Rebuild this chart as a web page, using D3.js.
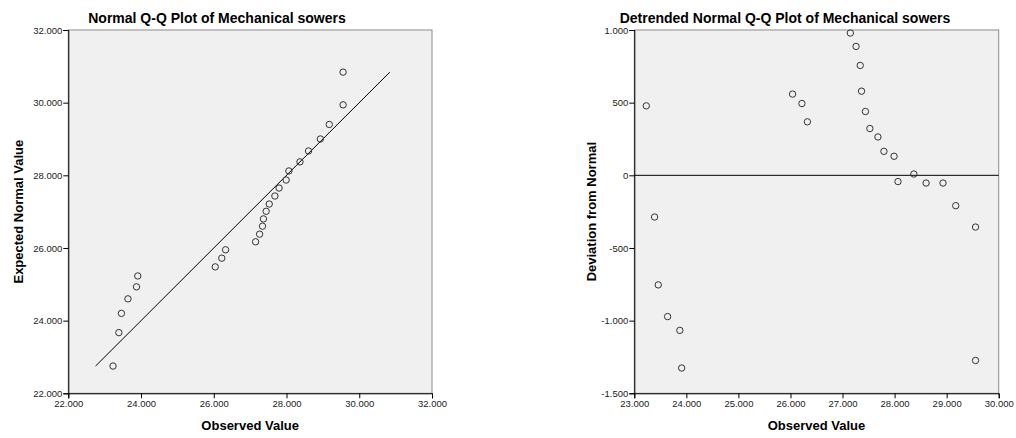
<!DOCTYPE html>
<html>
<head>
<meta charset="utf-8">
<script src="https://cdn.jsdelivr.net/npm/d3@7"></script>
<style>
  body { margin: 0; background: #fff; }
  svg text { font-family: Arial, "Liberation Sans", sans-serif; }
</style>
</head>
<body>
<svg id="chart" width="1016" height="438"></svg>
<script>
// observed values (sorted), expected normal values, deviation from normal
var observed = [23230, 23390, 23460, 23640, 23875, 23910, 26040, 26220, 26325, 27150, 27260, 27340, 27365,
                27440, 27525, 27680, 27795, 27990, 28065, 28370, 28605, 28930, 29175, 29555, 29555];
var expected = [22750, 23670, 24200, 24600, 24930, 25230, 25480, 25720, 25950, 26170, 26380, 26600, 26800,
                27010, 27210, 27430, 27650, 27870, 28120, 28370, 28670, 29000, 29400, 29940, 30840];
var deviation = [478, -287, -754, -972, -1067, -1326, 559, 494, 368, 979, 887, 756, 579,
                 439, 322, 264, 165, 131, -43, 9, -53, -53, -209, -356, -1274];

var qqTicks = [22000, 24000, 26000, 28000, 30000, 32000];
var detX = [23000, 24000, 25000, 26000, 27000, 28000, 29000, 30000];
var detY = [-1500, -1000, -500, 0, 500, 1000];

// european style: 23.000
var loc = d3.formatLocale({decimal: ",", thousands: ".", grouping: [3], currency: ["", ""], minus: "-"});
var fmt = loc.format(",d");

var svg = d3.select("#chart");

function frame(g, x, y) {
  g.append("rect")
    .attr("x", x.range()[0]).attr("y", y.range()[1])
    .attr("width", x.range()[1] - x.range()[0])
    .attr("height", y.range()[0] - y.range()[1])
    .attr("fill", "#f0f0f0").attr("stroke", "#8c8c8c").attr("stroke-width", 1);
}

function axes(g, x, y, xt, yt) {
  var ax = g.append("g").attr("transform", "translate(0," + y.range()[0] + ")")
    .call(d3.axisBottom(x).tickValues(xt).tickFormat(fmt).tickSize(5).tickPadding(2));
  var ay = g.append("g").attr("transform", "translate(" + x.range()[0] + ",0)")
    .call(d3.axisLeft(y).tickValues(yt).tickFormat(fmt).tickSize(5).tickPadding(1));
  [ax, ay].forEach(function(a) {
    a.select(".domain").attr("stroke", "#000");
    a.selectAll(".tick line").attr("stroke", "#000");
    a.selectAll(".tick text").attr("fill", "#222").style("font-size", "9.5px");
  });
}

function labels(g, x, y, title, tcx, ytitle, ycx) {
  g.append("text").attr("x", tcx).attr("y", 23).attr("text-anchor", "middle")
    .style("font-size", "14px").style("font-weight", "bold").text(title);
  g.append("text").attr("x", (x.range()[0] + x.range()[1]) / 2).attr("y", 430)
    .attr("text-anchor", "middle").style("font-size", "13px").style("font-weight", "bold")
    .text("Observed Value");
  var cy = (y.range()[0] + y.range()[1]) / 2;
  g.append("text").attr("transform", "translate(" + ycx + "," + cy + ") rotate(-90)")
    .attr("text-anchor", "middle").style("font-size", "13px").style("font-weight", "bold")
    .text(ytitle);
}

//================= Normal Q-Q =================//
var x1 = d3.scaleLinear().domain([22000, 32000]).range([68.3, 432]);
var y1 = d3.scaleLinear().domain([22000, 32000]).range([393.3, 30]);
var g1 = svg.append("g");
frame(g1, x1, y1);
axes(g1, x1, y1, qqTicks, qqTicks);

var ext = d3.extent(expected);
g1.append("line")
  .attr("x1", x1(ext[0])).attr("y1", y1(ext[0]))
  .attr("x2", x1(ext[1])).attr("y2", y1(ext[1]))
  .attr("stroke", "#000").attr("stroke-width", 1);

g1.selectAll("circle.pt").data(observed).enter().append("circle")
  .attr("class", "pt")
  .attr("cx", function(d) { return x1(d); })
  .attr("cy", function(d, i) { return y1(expected[i]); })
  .attr("r", 3.2).attr("fill", "none").attr("stroke", "#333").attr("stroke-width", 1);

labels(g1, x1, y1, "Normal Q-Q Plot of Mechanical sowers", 217, "Expected Normal Value", 23);

//================= Detrended =================//
var x2 = d3.scaleLinear().domain([23000, 30000]).range([634.3, 998.7]);
var y2 = d3.scaleLinear().domain([-1500, 1000]).range([393.3, 30]);
var g2 = svg.append("g");
frame(g2, x2, y2);
axes(g2, x2, y2, detX, detY);

g2.append("line")
  .attr("x1", x2.range()[0]).attr("x2", x2.range()[1])
  .attr("y1", y2(0)).attr("y2", y2(0))
  .attr("stroke", "#000").attr("stroke-width", 1);

g2.selectAll("circle.pt").data(observed).enter().append("circle")
  .attr("class", "pt")
  .attr("cx", function(d) { return x2(d); })
  .attr("cy", function(d, i) { return y2(deviation[i]); })
  .attr("r", 3.2).attr("fill", "none").attr("stroke", "#333").attr("stroke-width", 1);

labels(g2, x2, y2, "Detrended Normal Q-Q Plot of Mechanical sowers", 785, "Deviation from Normal", 596);
</script>
</body>
</html>
